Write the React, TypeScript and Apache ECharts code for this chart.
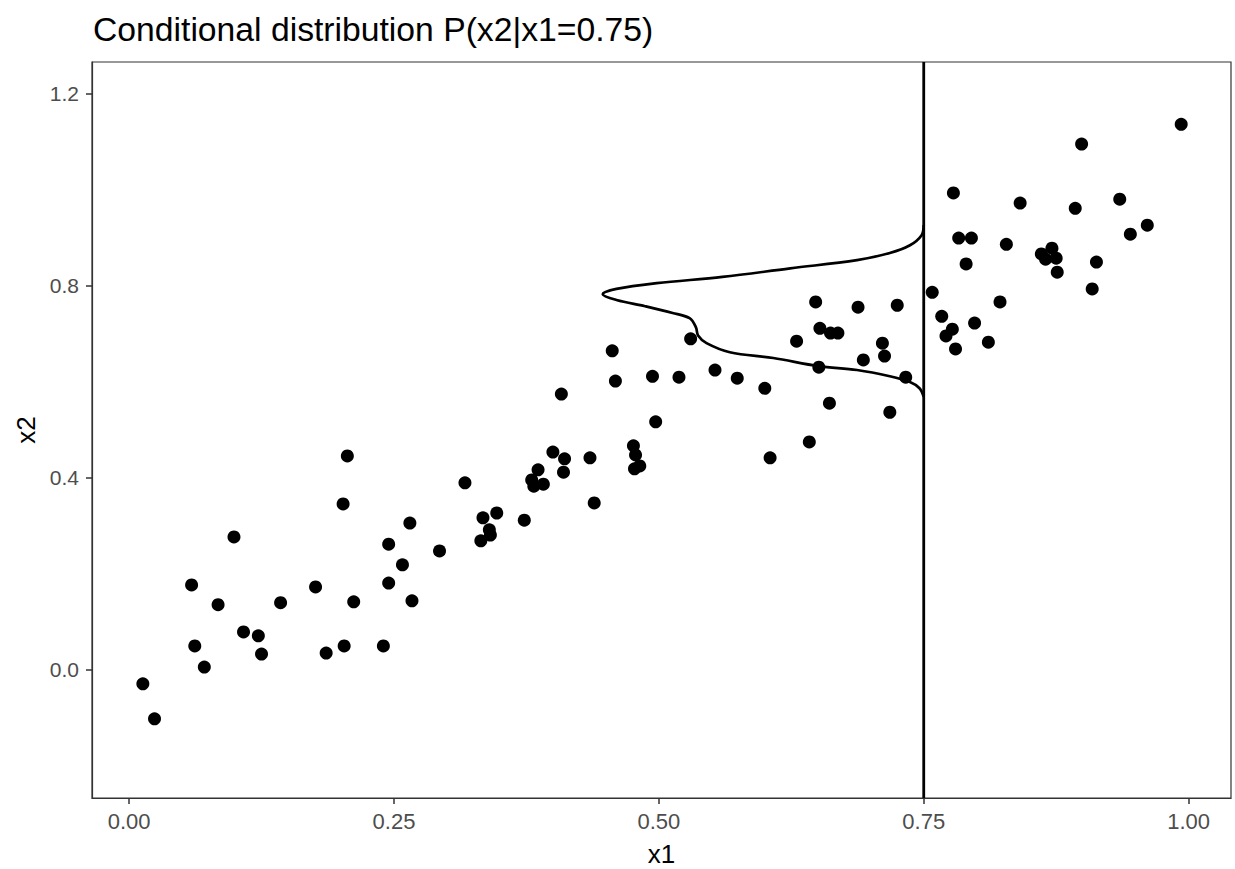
import React, { useEffect, useRef } from "react";
import * as echarts from "echarts";

const titleText = "Conditional distribution P(x2|x1=0.75)";
const xTicks = [0, 0.25, 0.5, 0.75, 1.0];
const yTicks = [0, 0.4, 0.8, 1.2];
const conditionX = 0.75;

// observed points
const x1Values = [
  0.202, 0.265, 0.099, 0.245, 0.293, 0.258, 0.059, 0.245, 0.176, 0.084,
  0.143, 0.212, 0.267, 0.108, 0.122, 0.062, 0.203, 0.240, 0.125, 0.186,
  0.071, 0.013, 0.024,
  0.456, 0.459, 0.494, 0.408, 0.497, 0.206, 0.400, 0.411, 0.435, 0.476,
  0.478, 0.482, 0.477, 0.386, 0.380, 0.391, 0.382, 0.410, 0.317, 0.439,
  0.334, 0.347, 0.373, 0.340, 0.341, 0.332,
  0.648, 0.688, 0.725, 0.652, 0.662, 0.669, 0.630, 0.711, 0.530, 0.713,
  0.693, 0.651, 0.519, 0.553, 0.574, 0.600, 0.733, 0.661, 0.718, 0.642,
  0.605,
  0.993, 0.899, 0.778, 0.841, 0.893, 0.935, 0.961, 0.945, 0.783, 0.795,
  0.828, 0.871, 0.861, 0.865, 0.875, 0.876, 0.790, 0.913, 0.909, 0.758,
  0.822, 0.767, 0.777, 0.771, 0.798, 0.780, 0.811,
];
const x2Values = [
  0.345, 0.305, 0.276, 0.261, 0.247, 0.218, 0.176, 0.180, 0.172, 0.135,
  0.139, 0.141, 0.143, 0.078, 0.070, 0.049, 0.049, 0.049, 0.032, 0.034,
  0.005, -0.030, -0.103,
  0.664, 0.601, 0.611, 0.574, 0.516, 0.445, 0.453, 0.439, 0.441, 0.466,
  0.447, 0.424, 0.418, 0.416, 0.395, 0.386, 0.382, 0.411, 0.389, 0.347,
  0.316, 0.326, 0.311, 0.291, 0.280, 0.268,
  0.766, 0.755, 0.759, 0.711, 0.701, 0.701, 0.684, 0.680, 0.689, 0.653,
  0.645, 0.630, 0.609, 0.624, 0.607, 0.586, 0.609, 0.555, 0.536, 0.474,
  0.441,
  1.136, 1.095, 0.993, 0.972, 0.961, 0.980, 0.926, 0.907, 0.899, 0.899,
  0.886, 0.878, 0.866, 0.855, 0.857, 0.828, 0.845, 0.849, 0.793, 0.786,
  0.766, 0.736, 0.709, 0.695, 0.722, 0.668, 0.682,
];

// conditional density curve drawn leftwards from x1 = 0.75
const curveX2 = [
  0.568, 0.586, 0.599, 0.611, 0.624, 0.632, 0.649, 0.661, 0.680, 0.696,
  0.713, 0.732, 0.743, 0.757, 0.770, 0.782, 0.793, 0.805, 0.818, 0.836,
  0.853, 0.868, 0.884, 0.905, 0.926,
];
const curveX1 = [
  0.750, 0.746, 0.737, 0.718, 0.687, 0.651, 0.608, 0.567, 0.545, 0.537,
  0.535, 0.529, 0.513, 0.487, 0.460, 0.447, 0.460, 0.498, 0.560, 0.624,
  0.687, 0.718, 0.737, 0.748, 0.750,
];

const X_MIN = -0.035;
const X_MAX = 1.04;
const Y_MIN = -0.268;
const Y_MAX = 1.266;

export default function App() {
  const ref = useRef<HTMLDivElement>(null);
  useEffect(() => {
    if (!ref.current) return;
    const chart = echarts.init(ref.current, null, { renderer: "svg" });
    const points = x1Values.map((x, i) => [x, x2Values[i]]);
    const curve = curveX1.map((x, i) => [x, curveX2[i]]);
    const font = "'Liberation Sans', Arial, Helvetica, sans-serif";
    chart.setOption({
      animation: false,
      backgroundColor: "#ffffff",
      textStyle: { fontFamily: font },
      title: {
        text: titleText,
        left: 88,
        top: 7,
        textStyle: { fontFamily: font, fontSize: 33.7, fontWeight: "normal", color: "#000000" },
      },
      grid: {
        left: 92,
        right: 4,
        top: 62,
        bottom: 71,
        show: true,
        borderColor: "#333333",
        borderWidth: 1.2,
        backgroundColor: "#ffffff",
        containLabel: false,
        outerBoundsMode: "none",
      },
      xAxis: {
        type: "value",
        min: X_MIN,
        max: X_MAX,
        name: "x1",
        nameLocation: "middle",
        nameGap: 43,
        nameTextStyle: { fontFamily: font, fontSize: 26, color: "#000000" },
        axisLine: { show: true, onZero: false, lineStyle: { color: "#333333", width: 1.2 } },
        axisTick: { show: true, length: 6, customValues: xTicks, lineStyle: { color: "#333333", width: 1.5 } },
        axisLabel: {
          customValues: xTicks,
          margin: 12,
          fontSize: 22,
          color: "#4d4d4d",
          fontFamily: font,
          formatter: (v: number) => v.toFixed(2),
        },
        splitLine: { show: false },
      },
      yAxis: {
        type: "value",
        min: Y_MIN,
        max: Y_MAX,
        name: "x2",
        nameLocation: "middle",
        nameGap: 53,
        nameRotate: 90,
        nameTextStyle: { fontFamily: font, fontSize: 26, color: "#000000" },
        axisLine: { show: true, onZero: false, lineStyle: { color: "#333333", width: 1.2 } },
        axisTick: { show: true, length: 6, customValues: yTicks, lineStyle: { color: "#333333", width: 1.5 } },
        axisLabel: {
          customValues: yTicks,
          margin: 13,
          fontSize: 21,
          color: "#4d4d4d",
          fontFamily: font,
          formatter: (v: number) => v.toFixed(1),
        },
        splitLine: { show: false },
      },
      series: [
        {
          type: "line",
          data: [
            [conditionX, Y_MIN],
            [conditionX, Y_MAX],
          ],
          symbol: "none",
          lineStyle: { color: "#000000", width: 2.8 },
          silent: true,
          z: 3,
        },
        {
          type: "line",
          data: curve,
          symbol: "none",
          smooth: 0.35,
          lineStyle: { color: "#000000", width: 2.7 },
          silent: true,
          z: 3,
        },
        {
          type: "scatter",
          data: points,
          symbol: "circle",
          symbolSize: 13,
          itemStyle: { color: "#000000", opacity: 1 },
          z: 4,
        },
      ],
    });
    return () => chart.dispose();
  }, []);
  return (
    <div
      ref={ref}
      style={{ position: "fixed", left: 0, top: 0, width: 1235, height: 869, background: "#fff" }}
    />
  );
}
